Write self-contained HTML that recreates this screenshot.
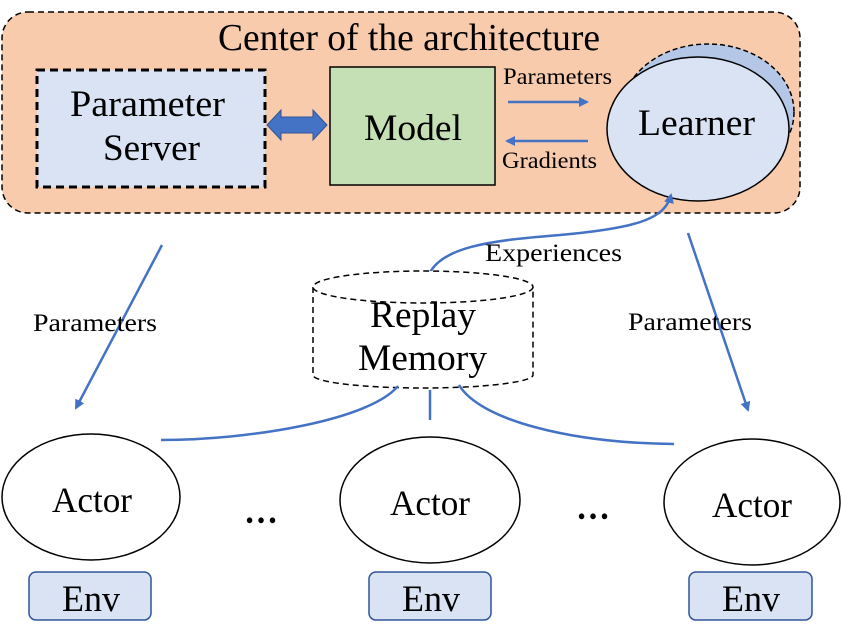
<!DOCTYPE html>
<html><head><style>body{margin:0;background:#fff}svg{display:block}text{font-family:"Liberation Serif",serif;fill:#000}</style></head>
<body>
<svg width="842" height="642" viewBox="0 0 842 642" xmlns="http://www.w3.org/2000/svg">
<defs>
<marker id="a" markerWidth="10" markerHeight="10" refX="8" refY="5" orient="auto" markerUnits="userSpaceOnUse"><path d="M0,0 L10,5 L0,10 z" fill="#4472c4"/></marker>
</defs>
<rect x="2" y="12" width="798" height="201" rx="26" fill="#f8cbad" stroke="#000" stroke-width="1.5" stroke-dasharray="6,4"/>
<text x="218" y="50" font-size="38" textLength="382" lengthAdjust="spacingAndGlyphs">Center of the architecture</text>
<rect x="37" y="70" width="228" height="117" fill="#dae3f3" stroke="#000" stroke-width="3" stroke-dasharray="8,5"/>
<text x="70" y="116" font-size="37" textLength="155" lengthAdjust="spacingAndGlyphs">Parameter</text>
<text x="103" y="160" font-size="37" textLength="97" lengthAdjust="spacingAndGlyphs">Server</text>
<path d="M267,125 L281,110 L281,117 L313,117 L313,110 L327,125 L313,140 L313,133 L281,133 L281,140 Z" fill="#4472c4" stroke="#2f5597" stroke-width="1"/>
<rect x="330" y="67" width="165" height="118" fill="#c5e0b4" stroke="#000" stroke-width="1.5"/>
<text x="364" y="140" font-size="37" textLength="98" lengthAdjust="spacingAndGlyphs">Model</text>
<text x="503" y="84" font-size="23" textLength="109" lengthAdjust="spacingAndGlyphs">Parameters</text>
<line x1="508" y1="102" x2="587" y2="102" stroke="#4472c4" stroke-width="2.5" marker-end="url(#a)"/>
<line x1="588" y1="141" x2="507" y2="141" stroke="#4472c4" stroke-width="2.5" marker-end="url(#a)"/>
<text x="502" y="168" font-size="23" textLength="95" lengthAdjust="spacingAndGlyphs">Gradients</text>
<ellipse cx="708" cy="112" rx="86" ry="68" fill="#b4c7e7" stroke="#000" stroke-width="1.5" stroke-dasharray="5,3"/>
<ellipse cx="698" cy="129" rx="91" ry="72" fill="#dae3f3" stroke="#000" stroke-width="1.5"/>
<text x="638" y="135" font-size="37" textLength="117" lengthAdjust="spacingAndGlyphs">Learner</text>
<path d="M427,282 C432,245 500,240 560,235 C640,228 665,218 671,195" fill="none" stroke="#4472c4" stroke-width="2.5" marker-end="url(#a)"/>
<text x="485" y="261" font-size="25" textLength="137" lengthAdjust="spacingAndGlyphs">Experiences</text>
<line x1="162" y1="245" x2="76" y2="408" stroke="#4472c4" stroke-width="2.5" marker-end="url(#a)"/>
<text x="33" y="331" font-size="25" textLength="124" lengthAdjust="spacingAndGlyphs">Parameters</text>
<line x1="688" y1="233" x2="748" y2="410" stroke="#4472c4" stroke-width="2.5" marker-end="url(#a)"/>
<text x="628" y="330" font-size="25" textLength="124" lengthAdjust="spacingAndGlyphs">Parameters</text>
<path d="M313,287 L313,375 A110,13 0 0 0 533,375 L533,287" fill="#fff" stroke="#000" stroke-width="1.5" stroke-dasharray="6,4"/>
<ellipse cx="423" cy="287" rx="110" ry="16" fill="#fff" stroke="#000" stroke-width="1.5" stroke-dasharray="6,4"/>
<text x="370" y="327" font-size="37" textLength="106" lengthAdjust="spacingAndGlyphs">Replay</text>
<text x="358" y="370" font-size="37" textLength="129" lengthAdjust="spacingAndGlyphs">Memory</text>
<path d="M398,386 C370,420 250,440 161,440" fill="none" stroke="#4472c4" stroke-width="2.5"/>
<line x1="430" y1="390" x2="430" y2="420" stroke="#4472c4" stroke-width="2.5"/>
<path d="M459,385 C480,420 570,443 674,444" fill="none" stroke="#4472c4" stroke-width="2.5"/>
<ellipse cx="91" cy="497" rx="89" ry="63" fill="#fff" stroke="#000" stroke-width="1.5"/>
<text x="52" y="512" font-size="36" textLength="80" lengthAdjust="spacingAndGlyphs">Actor</text>
<ellipse cx="430" cy="500" rx="90" ry="63" fill="#fff" stroke="#000" stroke-width="1.5"/>
<text x="390" y="515" font-size="36" textLength="80" lengthAdjust="spacingAndGlyphs">Actor</text>
<ellipse cx="752" cy="502" rx="88" ry="63" fill="#fff" stroke="#000" stroke-width="1.5"/>
<text x="712" y="517" font-size="36" textLength="80" lengthAdjust="spacingAndGlyphs">Actor</text>
<text x="244" y="523" font-size="36" textLength="34" lengthAdjust="spacingAndGlyphs" font-weight="bold">…</text>
<text x="576" y="519" font-size="36" textLength="34" lengthAdjust="spacingAndGlyphs" font-weight="bold">…</text>
<rect x="29" y="572" width="122" height="48" rx="7" fill="#dae3f3" stroke="#2f5597" stroke-width="1.5"/>
<text x="62" y="611" font-size="37" textLength="58" lengthAdjust="spacingAndGlyphs">Env</text>
<rect x="369" y="572" width="122" height="48" rx="7" fill="#dae3f3" stroke="#2f5597" stroke-width="1.5"/>
<text x="402" y="611" font-size="37" textLength="58" lengthAdjust="spacingAndGlyphs">Env</text>
<rect x="689" y="572" width="123" height="48" rx="7" fill="#dae3f3" stroke="#2f5597" stroke-width="1.5"/>
<text x="722" y="611" font-size="37" textLength="58" lengthAdjust="spacingAndGlyphs">Env</text>
</svg>
</body></html>
